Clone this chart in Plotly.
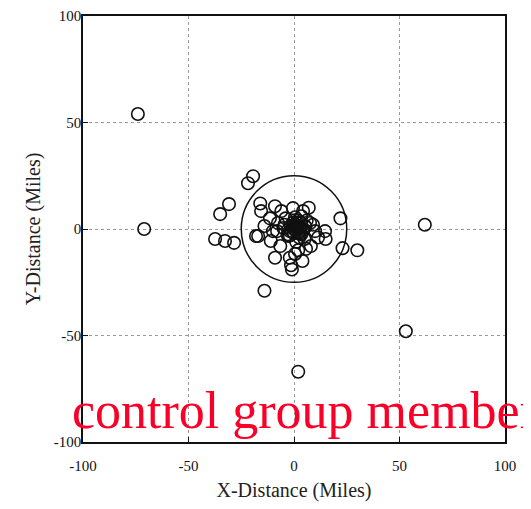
import plotly.graph_objects as go

# Data (miles)
x_dist = [-74, -71, 62, 53, 2, -14, 22, 30, 23,
          -19.4, -21.8, -30.8, -35, -37.4, -32.7, -28.4, -18,
          -16, -15.6, -9, -6, -0.5, 4.3, -11.4, -17, -11, -10, -5, -2,
          10, 11.4, 15, 8, 5.7, 2, -9, -2, -1.4, 0.5, -4, 0.5, 3.3, 5.2,
          7.6, 2.8, -2.8, -7.6, -14, 5, 14.7, 0, 1, -1, 2, 3, 1.5, -1.5,
          4, -3, 6, 0.5, 2.5, -0.5, 1, 3.5, -4.5, 9, -6.5, 7, -1, 4, -8,
          0.5, 1.5, 2.5, -0.5, 3, 1, 2, 4.5, -2, 0, 5.5, 3.5]
y_dist = [54, 0, 2, -48, -67, -29, 5, -10, -9,
          24.8, 21.5, 11.7, 7, -4.7, -5.6, -6.5, -3.3,
          12, 8.4, 10.7, 8.4, 9.8, 8.4, 5, -3.3, -5.6, -1, 0.5, -1,
          -1, -4, -4.7, -8, -9.3, -10, -13.5, -13.5, -17, -11.7, 5, 2.3, 2.8, 1.4,
          2.8, -2.3, -3.3, 2.8, 1.4, -4.7, -1, 0, 1, -1, -2, 0.5, 3, 1.5,
          -0.5, -2.5, 4, 5.5, -4, 3, -6, 6, 2, 2, -8, 10, -19, -15, -1,
          -0.5, 0.5, -1.5, 1.5, 1, -1, 4, 0, -3, -2, 1, -2.5]
circle_radius = 25
ticks = [-100, -50, 0, 50, 100]

fig = go.Figure()
fig.add_trace(go.Scatter(
    x=x_dist, y=y_dist, mode="markers",
    marker=dict(symbol="circle-open", size=12.5, color="#111", line=dict(width=1.6)),
    showlegend=False,
))
fig.add_shape(type="circle", xref="x", yref="y",
              x0=-circle_radius, x1=circle_radius, y0=-circle_radius, y1=circle_radius,
              line=dict(color="#111", width=1.5))

axis_common = dict(
    range=[-100, 100], tickvals=ticks, ticktext=[str(t) for t in ticks],
    showgrid=True, gridcolor="#999999", griddash="dot", gridwidth=1,
    zeroline=False, showline=True, linecolor="#111", linewidth=1.5, mirror=True,
    ticks="inside", ticklen=5, tickcolor="#111", automargin=False,
    ticklabeloverflow="allow",
    tickfont=dict(family="Liberation Serif", size=15, color="#111"),
)
fig.update_xaxes(**axis_common, ticklabelstandoff=9,
                 title=dict(text="X-Distance (Miles)", font=dict(family="Liberation Serif", size=20, color="#222"), standoff=10))
fig.update_yaxes(**axis_common, ticklabelstandoff=-3,
                 title=dict(text="Y-Distance (Miles)", font=dict(family="Liberation Serif", size=20, color="#222"), standoff=8))

fig.add_annotation(text="control group member", xref="paper", yref="paper",
                   x=-0.03, y=0.002, xanchor="left", yanchor="bottom", showarrow=False,
                   font=dict(family="Liberation Serif", size=52, color="#fa0028"))

fig.update_layout(
    width=531, height=509,
    margin=dict(l=75, r=34, t=8, b=75),
    plot_bgcolor="white", paper_bgcolor="white",
)
fig.write_html("out.html")
